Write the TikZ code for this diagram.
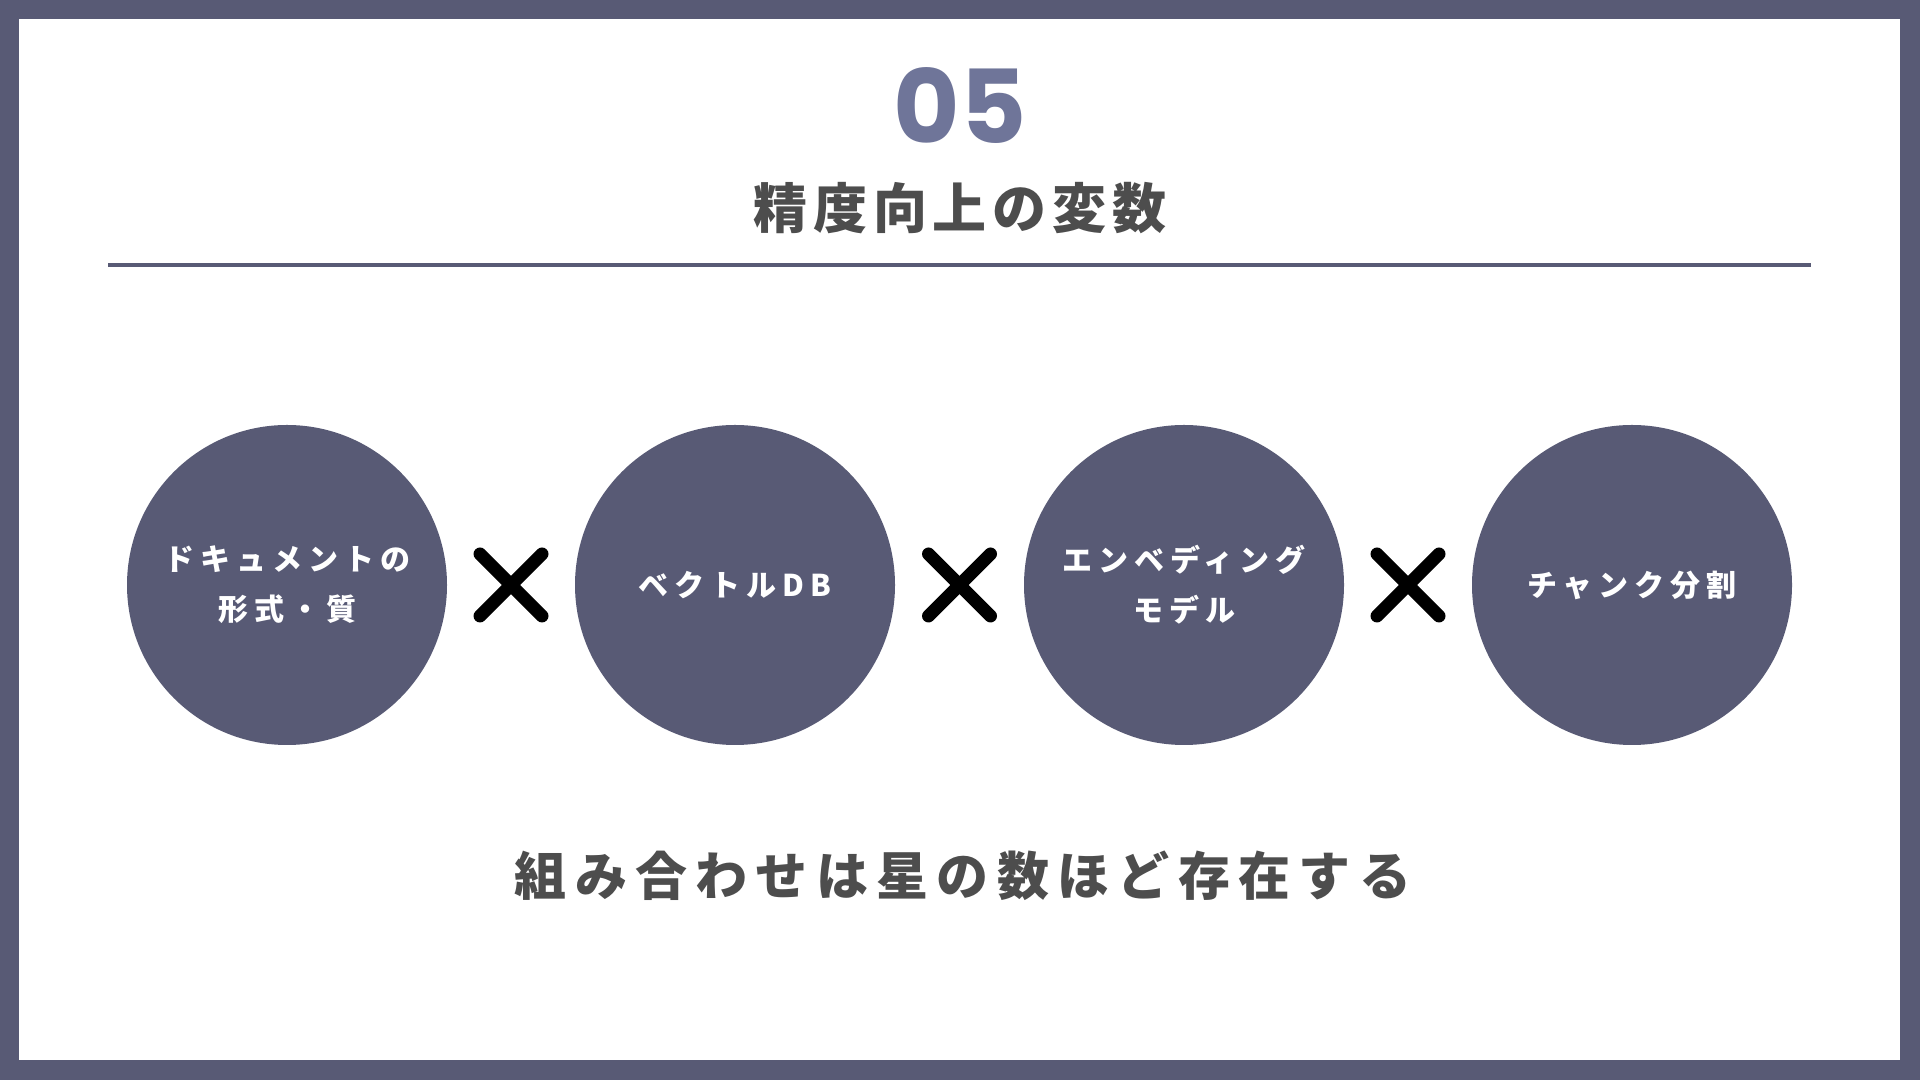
\documentclass[tikz,border=0pt]{standalone}
\usepackage{fontspec}
\usepackage{tikz}
\usetikzlibrary{positioning}

\newfontfamily\numfont{Poppins}
\newfontfamily\titlefont{Noto Sans CJK JP}[LetterSpace=11]
\newfontfamily\bottomfont{Noto Sans CJK JP}[LetterSpace=16]
\newfontfamily\circfont{Noto Sans CJK JP}[LetterSpace=20]

\definecolor{framegray}{HTML}{585A75}
\definecolor{numblue}{HTML}{6F7599}
\definecolor{textgray}{HTML}{4D4D4D}

\tikzset{
  varcircle/.style={circle, fill=framegray, minimum size=160pt, inner sep=0pt,
    text=white, align=center, font=\circfont\bfseries\fontsize{15pt}{25pt}\selectfont},
  cross/.style={line width=6.5pt, line cap=round, black}
}

\begin{document}
\begin{tikzpicture}[x=0.5pt, y=0.5pt]
    % Rahmen
    \fill[framegray] (0, 0) rectangle (1920, 1080);
    \fill[white] (19, 20) rectangle (1900, 1061);
    \useasboundingbox (0, 0) rectangle (1920, 1080);

    % Nummer und Titel
    \node[text=numblue, font=\numfont\bfseries\fontsize{51pt}{51pt}\selectfont] (num) at (960, 974) {05};
    \node[text=textgray, font=\titlefont\bfseries\fontsize{27pt}{27pt}\selectfont] (title) at (960, 872) {精度向上の変数};
    \draw[framegray, line width=2pt] (108, 815) -- (1811, 815);

    % Kreise
    \node[varcircle] (c1) at (287, 495) {ドキュメントの\\形式・質};
    \node[varcircle] (c2) at (735, 495) {ベクトルDB};
    \node[varcircle] (c3) at (1184, 495) {エンベディング\\モデル};
    \node[varcircle] (c4) at (1632, 495) {チャンク分割};

    % Kreuze dazwischen
    \foreach \a/\b in {1/2, 2/3, 3/4} {
        \path (c\a) -- (c\b) coordinate[midway] (x\a);
        \draw[cross] ([shift={(-31,-31)}]x\a) -- ([shift={(31,31)}]x\a);
        \draw[cross] ([shift={(-31,31)}]x\a) -- ([shift={(31,-31)}]x\a);
    }

    % Fazit
    \node[text=textgray, font=\bottomfont\bfseries\fontsize{26pt}{26pt}\selectfont] (summary) at (963, 204) {組み合わせは星の数ほど存在する};
\end{tikzpicture}
\end{document}
